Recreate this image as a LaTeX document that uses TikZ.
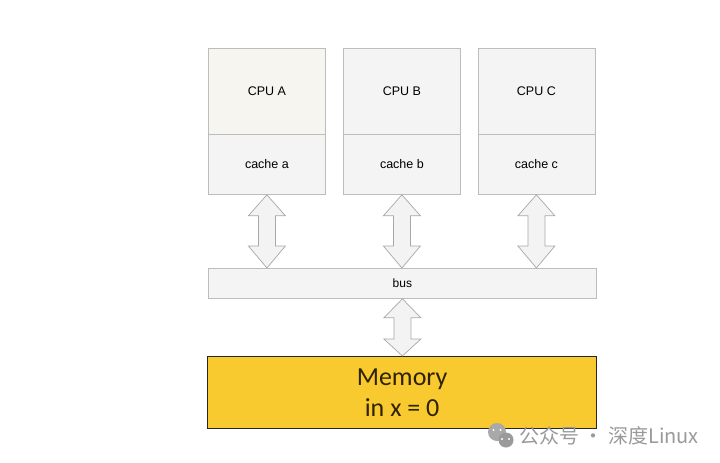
\documentclass[tikz,border=0pt]{standalone}
\usepackage{fontspec}
\setmainfont{Liberation Sans}
\newfontfamily\memfont{Carlito}
\newfontfamily\cjkfont{Noto Sans CJK SC}
\usetikzlibrary{calc}
\definecolor{boxfill}{HTML}{F4F4F4}
\definecolor{cpufill}{HTML}{F6F5F0}
\definecolor{boxline}{HTML}{BDBDBD}
\definecolor{arrfill}{HTML}{F3F3F3}
\definecolor{arrline}{HTML}{A8A8A8}
\definecolor{memfill}{HTML}{F9C930}
\definecolor{memtext}{HTML}{2E2304}
\definecolor{wmgray}{HTML}{9A9A9A}
\tikzset{
  cpubox/.style={draw=boxline, fill=cpufill, line width=0.8pt, minimum width=117pt, minimum height=86pt, anchor=north west, inner sep=0pt, font=\fontsize{12.5}{14}\selectfont},
  cachebox/.style={draw=boxline, fill=boxfill, line width=0.8pt, minimum width=117pt, minimum height=60pt, anchor=north west, inner sep=0pt, font=\fontsize{12.5}{14}\selectfont},
  busbox/.style={draw=boxline, fill=boxfill, line width=0.8pt, minimum width=388pt, minimum height=30pt, anchor=north west, inner sep=0pt, font=\fontsize{12}{14}\selectfont},
  membox/.style={draw=black!85, fill=memfill, line width=1.2pt, minimum width=389pt, minimum height=72pt, anchor=north west, inner sep=0pt, align=center, text=memtext, font=\memfont\fontsize{26}{31}\selectfont},
  barrow/.style={draw=arrline, fill=arrfill, line width=0.7pt, line join=miter},
}
\newcommand\bidir[4]{% top anchor, bottom anchor, top head length, bottom head length
  \draw[barrow] let \p1=(#1), \p2=(#2) in
    (\x1,\y1) -- (\x1+18.5pt,\y1-#3) -- (\x1+8.5pt,\y1-#3) -- (\x1+8.5pt,\y2+#4)
    -- (\x1+18.5pt,\y2+#4) -- (\x1,\y2) -- (\x1-18.5pt,\y2+#4) -- (\x1-8.5pt,\y2+#4)
    -- (\x1-8.5pt,\y1-#3) -- (\x1-18.5pt,\y1-#3) -- cycle;}
\begin{document}
\begin{tikzpicture}[x=1pt,y=-1pt]
\useasboundingbox[fill=white] (0,0) rectangle (720,463);
% CPU boxes
\node[cpubox] (cpuA) at (208,48) {CPU A};
\node[cachebox] (cacheA) at (208,134) {cache a};
\node[cpubox, fill=boxfill] (cpuB) at (343,48) {CPU B};
\node[cachebox] (cacheB) at (343,134) {cache b};
\node[cpubox, fill=boxfill] (cpuC) at (477.5,48) {CPU C};
\node[cachebox] (cacheC) at (477.5,134) {cache c};
% bus
\node[busbox] (bus) at (208,268) {bus};
% memory
\node[membox] (mem) at (207,356) {Memory\\in x = 0};
% arrows
\bidir{cacheA.south}{cacheA.south |- bus.north}{21pt}{22pt}
\bidir{cacheB.south}{cacheB.south |- bus.north}{21pt}{22pt}
\bidir{cacheC.south}{cacheC.south |- bus.north}{21pt}{22pt}
\bidir{bus.south}{mem.north}{19pt}{17pt}
% watermark
\fill[wmgray!85] (497,432) circle (9);
\fill[wmgray] (506,440) circle (7.5);
\fill[white] (502,439) circle (1.1) (509,439) circle (1.1);
\fill[white] (493.5,430) circle (1.2) (500.5,430) circle (1.2);
\node[anchor=west, text=wmgray, inner sep=0pt, font=\cjkfont\fontsize{20}{24}\selectfont] (wm) at (519,436) {公众号 · 深度Linux};
\end{tikzpicture}
\end{document}
